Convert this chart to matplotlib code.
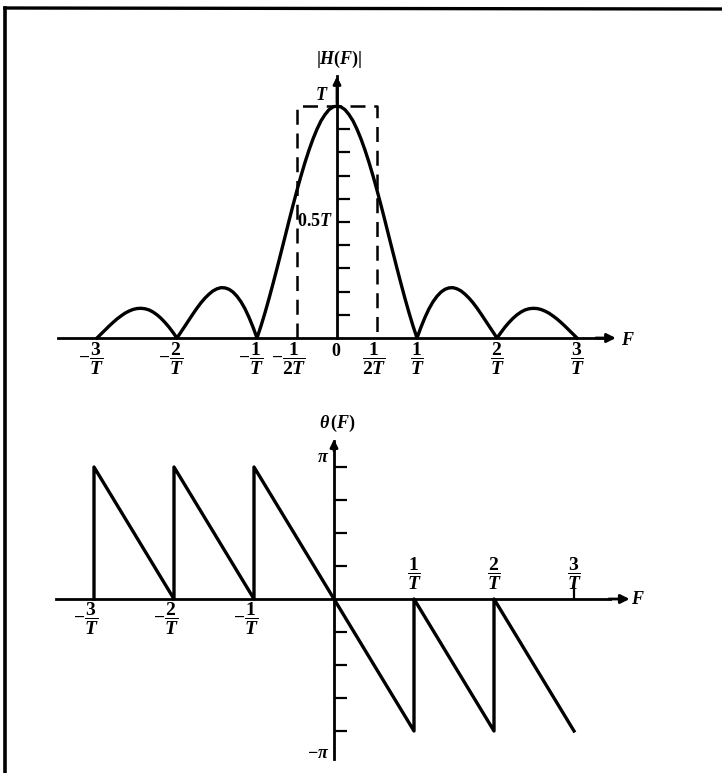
import numpy as np
import matplotlib
matplotlib.use('Agg')
import matplotlib.pyplot as plt
from matplotlib.lines import Line2D

plt.rcParams['font.family'] = ['Liberation Serif', 'DejaVu Serif']
plt.rcParams['mathtext.fontset'] = 'custom'
plt.rcParams['mathtext.rm'] = 'Liberation Serif:bold'
plt.rcParams['mathtext.it'] = 'Liberation Serif:italic:bold'
plt.rcParams['mathtext.bf'] = 'Liberation Serif:bold'

# magnitude |H(F)| (units of T), F in units of 1/T, read every 0.05/T
freq_mag = np.round(np.arange(-60, 61) / 20.0, 2)
mag = [0.000, 0.017, 0.034, 0.051, 0.067, 0.082, 0.095, 0.107, 0.116, 0.123,
       0.127, 0.128, 0.126, 0.121, 0.112, 0.100, 0.085, 0.067, 0.047, 0.024,
       0.000, 0.026, 0.052, 0.078, 0.104, 0.129, 0.152, 0.172, 0.189, 0.203,
       0.212, 0.217, 0.216, 0.210, 0.198, 0.180, 0.156, 0.126, 0.089, 0.047,
       0.000, 0.052, 0.109, 0.170, 0.234, 0.300, 0.368, 0.436, 0.505, 0.572,
       0.637, 0.699, 0.757, 0.810, 0.858, 0.900, 0.936, 0.963, 0.984, 0.996,
       1.000,
       0.996, 0.984, 0.963, 0.936, 0.900, 0.858, 0.810, 0.757, 0.699, 0.637,
       0.572, 0.505, 0.436, 0.368, 0.300, 0.234, 0.170, 0.109, 0.052, 0.000,
       0.047, 0.089, 0.126, 0.156, 0.180, 0.198, 0.210, 0.216, 0.217, 0.212,
       0.203, 0.189, 0.172, 0.152, 0.129, 0.104, 0.078, 0.052, 0.026, 0.000,
       0.024, 0.047, 0.067, 0.085, 0.100, 0.112, 0.121, 0.126, 0.128, 0.127,
       0.123, 0.116, 0.107, 0.095, 0.082, 0.067, 0.051, 0.034, 0.017, 0.000]

# ideal lowpass (dashed)
freq_ideal = [-0.5, -0.5, 0.5, 0.5]
mag_ideal = [0, 1, 1, 0]

# phase theta(F) in units of pi
freq_phase = [-3, -3, -2, -2, -1, -1, 1, 1, 2, 2, 3]
phase = [0, 1, 0, 1, 0, 1, -1, 0, -1, 0, -1]

mag_ticks = [0.1, 0.2, 0.3, 0.4, 0.5, 0.6, 0.7, 0.8, 0.9]
phase_ticks = [-1, -0.75, -0.5, -0.25, 0.25, 0.5, 0.75, 1]

W, H = 722, 773
fig = plt.figure(figsize=(W / 100, H / 100), dpi=100)


def frac(num, neg=False):
    s = r'\dfrac{%s}{T}' % num
    return r'$-%s$' % s if neg else r'$%s$' % s


def setup(ax):
    for s in ['top', 'right']:
        ax.spines[s].set_visible(False)
    ax.spines['left'].set_position(('data', 0))
    ax.spines['bottom'].set_position(('data', 0))
    for s in ['left', 'bottom']:
        ax.spines[s].set_linewidth(2)
    ax.tick_params(axis='y', direction='in', length=9, width=1.6, labelleft=False)
    ax.tick_params(axis='x', direction='in', length=6, width=1.6, labelbottom=False)
    ax.patch.set_alpha(0)


# ---- top panel: magnitude
ax1 = fig.add_axes([0, (H - 390) / H, 1, 350 / H])
ax1.set_xlim(-337 / 80, (W - 337) / 80)
ax1.set_ylim((338 - 390) / 232, 338 / 232 - 40 / 232)
setup(ax1)
ax1.spines['left'].set_bounds(0, 1.13)
ax1.spines['bottom'].set_bounds(-3.49, 3.4)
ax1.set_yticks(mag_ticks)
ax1.set_xticks([])
ax1.annotate('', xy=(3.52, 0), xytext=(3.2, 0),
             arrowprops=dict(arrowstyle='-|>', lw=2, color='black', mutation_scale=13))
ax1.annotate('', xy=(0, 1.14), xytext=(0, 1.0),
             arrowprops=dict(arrowstyle='-|>', lw=2, color='black', mutation_scale=11))

ax1.plot(freq_ideal, mag_ideal, color='black', lw=1.8, ls=(0, (6, 3.5)))
ax1.plot(freq_mag, mag, color='black', lw=2.4, solid_joinstyle='round')

ax1.text(0.03, 1.20, r'$|H(F)|$', ha='center', va='center', fontsize=13)
ax1.text(-0.19, 1.045, r'$T$', ha='center', va='center', fontsize=13)
ax1.text(-0.05, 0.5, r'$0.5T$', ha='right', va='center', fontsize=13)
ax1.text(3.64, -0.01, r'$F$', ha='center', va='center', fontsize=13)
ax1.text(-0.01, -0.06, r'$0$', ha='center', va='center', fontsize=13)
for k in [-3, -2, -1]:
    ax1.text(k - 0.08, -0.09, frac(abs(k), True), ha='center', va='center', fontsize=14)
for k in [1, 2, 3]:
    ax1.text(k, -0.09, frac(k), ha='center', va='center', fontsize=14)
ax1.text(-0.6, -0.09, r'$-\dfrac{1}{2T}$', ha='center', va='center', fontsize=14)
ax1.text(0.47, -0.09, r'$\dfrac{1}{2T}$', ha='center', va='center', fontsize=14)

# ---- bottom panel: phase
ax2 = fig.add_axes([0, 0, 1, 373 / H])
ax2.set_xlim(-334 / 80, (W - 334) / 80)
ax2.set_ylim((599 - 773) / 132, (599 - 400) / 132)
setup(ax2)
ax2.spines['left'].set_bounds(-1.21, 1.2)
ax2.spines['bottom'].set_bounds(-3.48, 3.45)
ax2.set_yticks(phase_ticks)
ax2.set_xticks([3])
ax2.tick_params(axis='x', length=12)
ax2.annotate('', xy=(3.73, 0), xytext=(3.4, 0),
             arrowprops=dict(arrowstyle='-|>', lw=2, color='black', mutation_scale=13))
ax2.annotate('', xy=(0, 1.23), xytext=(0, 1.1),
             arrowprops=dict(arrowstyle='-|>', lw=2, color='black', mutation_scale=11))

ax2.plot(freq_phase, phase, color='black', lw=2.4)

ax2.text(0.04, 1.33, r'$\theta\,(F)$', ha='center', va='center', fontsize=13)
ax2.text(-0.14, 1.07, r'$\pi$', ha='center', va='center', fontsize=13)
ax2.text(-0.2, -1.17, r'$-\pi$', ha='center', va='center', fontsize=13)
ax2.text(3.8, 0, r'$F$', ha='center', va='center', fontsize=13)
for k in [-3, -2, -1]:
    ax2.text(k - 0.1, -0.15, frac(abs(k), True), ha='center', va='center', fontsize=14)
for k in [1, 2, 3]:
    ax2.text(k, 0.19, frac(k), ha='center', va='center', fontsize=14)

# scanned page border (top and left)
fig.add_artist(Line2D([5 / W, 1], [1 - 8 / H, 1 - 9 / H], color='black', lw=2.4))
fig.add_artist(Line2D([5 / W, 5 / W], [0, 1 - 8 / H], color='black', lw=2.6))

fig.savefig('out.png', dpi=100, facecolor='white')
